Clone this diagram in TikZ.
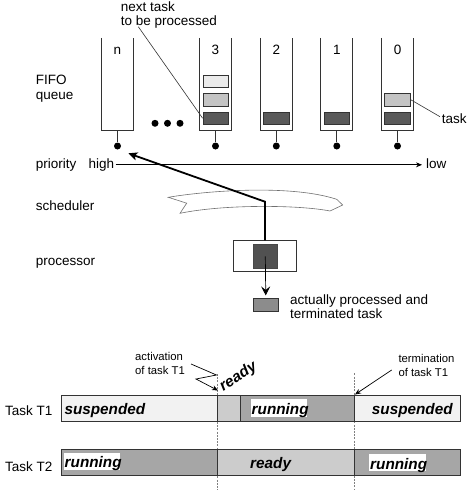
\documentclass[tikz,border=0pt]{standalone}
\usepackage{fontspec}
\setmainfont{Liberation Sans}
\usetikzlibrary{arrows.meta}
\definecolor{tlight}{HTML}{EBEBEB}
\definecolor{tmed}{HTML}{C4C4C4}
\definecolor{tdark}{HTML}{5A5A5A}
\definecolor{csusp}{HTML}{F2F2F2}
\definecolor{cready}{HTML}{CCCCCC}
\definecolor{crun}{HTML}{A6A6A6}
\definecolor{cout}{HTML}{8C8C8C}
\definecolor{cline}{HTML}{333333}
\begin{document}
\begin{tikzpicture}[x=1pt,y=-1pt,
  lbl/.style={font=\fontsize{13.5}{15}\selectfont, inner sep=0pt, anchor=base west},
  qnum/.style={font=\fontsize{13.5}{15}\selectfont, inner sep=0pt, anchor=base},
  smalllbl/.style={font=\fontsize{11.3}{13}\selectfont, inner sep=0pt, anchor=base west},
  statelbl/.style={font=\fontsize{15.3}{17}\selectfont\bfseries\itshape, inner sep=0pt, anchor=base west},
  qbox/.style={minimum width=31.6pt, minimum height=92.7pt, inner sep=0pt},
  qline/.style={draw=cline, line width=0.9pt},
  taskbox/.style={draw=cline, line width=0.7pt, minimum width=25.7pt, minimum height=12.3pt, inner sep=0pt},
  qdot/.style={circle, fill=black, minimum size=7pt, inner sep=0pt},
  thinline/.style={draw=cline, line width=0.6pt},
  bar/.style={draw=cline, line width=0.9pt},
  divider/.style={draw=gray, line width=0.7pt, dash pattern=on 2pt off 1.2pt},
  tip/.style={-{Stealth[length=6pt,width=5pt]}},
]
\useasboundingbox (0,0) rectangle (468,490);

% ---------- queues ----------
\foreach \nm/\qx/\lab in {qn/117.5/n, q3/215.5/3, q2/276.3/2, q1/336.8/1, q0/397.5/0}{
  \node[qbox] (\nm) at (\qx,84.35) {};
  \draw[qline] (\nm.north west) |- (\nm.south east) -- (\nm.north east);
  \node[qnum] (\nm-lab) at (\qx,54) {\lab};
  \node[qdot] (\nm-dot) at (\qx,146) {};
  \draw[qline] (\nm.south) -- (\nm-dot);
}

% tasks
\node[taskbox, fill=tlight] (t3a) at (215.8,81.3) {};
\node[taskbox, fill=tmed]   (t3b) at (215.8,99.7) {};
\node[taskbox, fill=tdark]  (t3c) at (215.8,118.2) {};
\node[taskbox, fill=tdark]  (t2a) at (276.3,118.2) {};
\node[taskbox, fill=tdark]  (t1a) at (336.8,118.2) {};
\node[taskbox, fill=tmed]   (t0a) at (397.5,99.7) {};
\node[taskbox, fill=tdark]  (t0b) at (397.5,118.2) {};

% ellipsis
\node[qdot] (e1) at (155,123.3) {};
\node[qdot] (e2) at (167.5,123.3) {};
\node[qdot] (e3) at (180,123.3) {};

% labels
\node[lbl] (nt1) at (120.7,11) {next task};
\node[lbl] (nt2) at (120.7,25) {to be processed};
\coordinate (ntstart) at (138.3,26.7);
\draw[thinline] (ntstart) -- (t3c.west);

\node[lbl] (fifo1) at (35.7,84.5) {FIFO};
\node[lbl] (fifo2) at (35.7,99) {queue};

\node[lbl] (tasklbl) at (441.7,123.3) {task};
\coordinate (taskend) at (440,116.7);
\draw[thinline] (t0a.east) -- (taskend);

% priority
\node[lbl] (prio) at (35.7,168.3) {priority};
\node[lbl] (high) at (88.3,168.3) {high};
\node[lbl] (low) at (426,168.3) {low};
\draw[draw=black, line width=0.8pt, tip, shorten <=1.5pt, shorten >=4pt] (high.east) -- (high.east -| low.west);

% scheduler
\node[lbl] (sched) at (35.7,210) {scheduler};
\draw[draw=cline!70, line width=0.6pt, fill=white]
  (168.3,197.3) .. controls (205,191) and (290,184) .. (336.7,199.3)
  -- (342.7,205) -- (330,211)
  .. controls (300,205) and (225,204) .. (180,213.3)
  -- (186.7,203.2) -- cycle;

% processor
\node[lbl] (proclbl) at (35.7,265) {processor};
\node[draw=cline, line width=0.8pt, fill=white, minimum width=62.7pt, minimum height=31pt, inner sep=0pt] (proc) at (265,256.2) {};
\node[draw=tdark!80!black, fill=tdark!90!black, minimum width=24pt, minimum height=24pt, inner sep=0pt] (pin) at (265.3,256.3) {};
\coordinate (sp) at (265,201.7);
\coordinate (schedtip) at (128.3,153.3);
\draw[line width=1.8pt, -{Stealth[length=9pt,width=8pt,inset=2pt]}] (proc.north) -- (sp) -- (schedtip);

\node[draw=cline, line width=0.7pt, fill=cout, minimum width=25pt, minimum height=13.4pt, inner sep=0pt] (outt) at (265.8,305) {};
\draw[line width=0.7pt, -{Stealth[length=9pt,width=9pt,inset=3.5pt]}, shorten >=2.5pt] (pin.center) -- (outt.north);
\node[lbl] (out1) at (290,304) {actually processed and};
\node[lbl] (out2) at (290,318.3) {terminated task};

% ---------- timeline ----------
\coordinate (d1top) at (217.3,374);
\coordinate (d1bot) at (217.3,490);
\coordinate (d2top) at (354,373.3);
\coordinate (d2bot) at (354,490);
\draw[divider] (d1top) -- (d1bot);
\draw[divider] (d2top) -- (d2bot);

\node[lbl] (tt1) at (5,415) {Task T1};
\node[lbl] (tt2) at (5,471.5) {Task T2};

% T1 bar
\draw[bar, fill=csusp] (61,395.7) rectangle (217.3,421);
\draw[bar, fill=cready] (217.3,395.7) rectangle (240,421);
\draw[bar, fill=crun] (240,395.7) rectangle (354,421);
\draw[bar, fill=csusp] (354,395.7) rectangle (460,421);
% T2 bar
\draw[bar, fill=crun] (61,449.3) rectangle (217.3,475);
\draw[bar, fill=cready] (217.3,449.3) rectangle (354,475);
\draw[bar, fill=crun] (354,449.3) rectangle (460,475);

% white text backgrounds
\fill[white] (250.7,399.3) rectangle (307.3,416.7);
\fill[white] (64.3,453.3) rectangle (120,470);
\fill[white] (369.3,454.3) rectangle (426,470.7);

\node[statelbl] (s1a) at (64.3,414) {suspended};
\node[statelbl] (s1b) at (251.5,414) {running};
\node[statelbl] (s1c) at (371.7,414) {suspended};
\node[statelbl] (s2a) at (64.5,467.8) {running};
\node[statelbl] (s2b) at (250,468.5) {ready};
\node[statelbl] (s2c) at (370,469) {running};
\node[statelbl, rotate=33] (s1r) at (223.3,391.5) {ready};

% activation / termination
\node[smalllbl] (act1) at (135,360.5) {activation};
\node[smalllbl] (act2) at (135,374) {of task T1};
\coordinate (z1) at (191,364);
\coordinate (z2) at (216.5,375);
\coordinate (z3) at (196,379);
\coordinate (z4) at (218,390.5);
\draw[line width=0.7pt, tip] (z1) -- (z2) -- (z3) -- (z4);

\node[smalllbl] (term1) at (398.3,362) {termination};
\node[smalllbl] (term2) at (398.3,376) {of task T1};
\coordinate (tstart) at (391.7,370);
\coordinate (tend) at (355,394.5);
\draw[line width=0.7pt, tip] (tstart) -- (tend);
\end{tikzpicture}
\end{document}
